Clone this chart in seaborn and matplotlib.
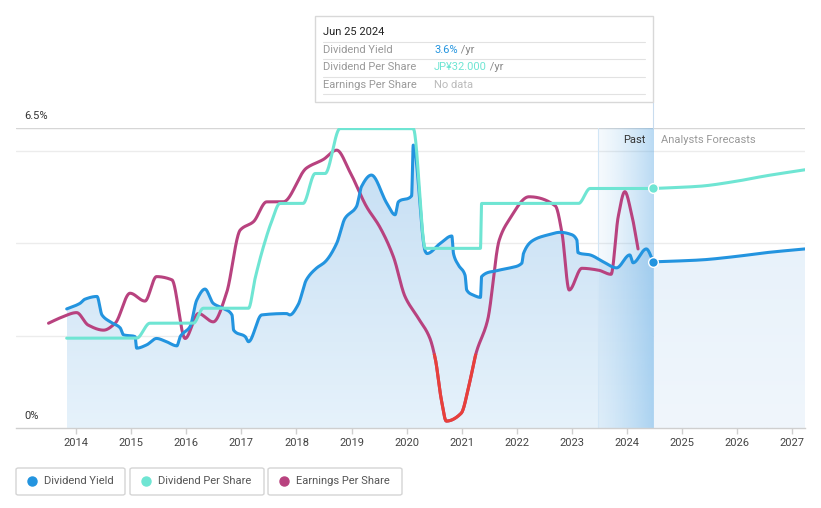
import numpy as np
import pandas as pd
import matplotlib
matplotlib.use("Agg")
import matplotlib.pyplot as plt
import seaborn as sns
from matplotlib.patches import Rectangle, FancyBboxPatch
from matplotlib.lines import Line2D
from matplotlib.colors import to_rgb

sns.set_theme(style="white")
plt.rcParams["font.family"] = ["Roboto", "DejaVu Sans"]

# ---------------- data ----------------
# Dividend yield (%)
yield_x = [2013.83, 2014.07, 2014.16, 2014.38, 2014.47, 2014.62, 2014.80, 2014.86, 2015.07, 2015.10,
           2015.28, 2015.46, 2015.64, 2015.83, 2015.89, 2016.07, 2016.19, 2016.34, 2016.49, 2016.67,
           2016.83, 2016.86, 2017.07, 2017.13, 2017.37, 2017.82, 2017.88, 2018.03, 2018.18, 2018.36,
           2018.52, 2018.73, 2018.88, 2019.09, 2019.18, 2019.36, 2019.64, 2019.79, 2019.85, 2020.09,
           2020.12, 2020.34, 2020.37, 2020.61, 2020.82, 2020.85, 2020.94, 2021.06, 2021.09, 2021.21,
           2021.34, 2021.36, 2021.64, 2021.88, 2022.09, 2022.12, 2022.30, 2022.55, 2022.79, 2022.97,
           2023.09, 2023.11, 2023.33, 2023.57, 2023.81, 2024.05, 2024.11, 2024.35, 2024.48]
yield_y = [2.58, 2.70, 2.79, 2.85, 2.45, 2.30, 2.17, 2.02, 1.98, 1.73,
           1.80, 1.94, 1.87, 1.78, 1.98, 2.20, 2.77, 3.01, 2.70, 2.59,
           2.45, 2.12, 1.98, 1.87, 2.45, 2.48, 2.45, 2.67, 3.21, 3.46,
           3.60, 4.00, 4.54, 4.80, 5.23, 5.48, 4.87, 4.62, 4.90, 5.03,
           6.13, 3.82, 3.78, 4.00, 4.16, 3.78, 3.53, 3.31, 2.99, 2.88,
           2.83, 3.28, 3.41, 3.47, 3.57, 3.78, 4.07, 4.18, 4.24, 4.20,
           4.07, 3.80, 3.75, 3.60, 3.47, 3.75, 3.58, 3.88, 3.60]
yield_fc_x = [2024.48, 2025.32, 2025.93, 2026.53, 2027.23]
yield_fc_y = [3.60, 3.64, 3.71, 3.80, 3.88]

# Dividend per share (JP¥)
dps_x = [2013.83, 2015.10, 2015.34, 2016.13, 2016.31, 2017.13, 2017.25, 2017.40, 2017.55, 2017.70,
         2018.12, 2018.34, 2018.52, 2018.79, 2020.12, 2020.34, 2021.34, 2021.36, 2023.12, 2023.33, 2024.48]
dps_y = [12, 12, 14, 14, 16, 16, 20, 24.2, 27.6, 30,
         30, 34, 34, 40, 40, 24, 24, 30, 30, 32, 32]
dps_fc_x = [2024.48, 2025.32, 2025.93, 2026.53, 2027.23]
dps_fc_y = [32.0, 32.3, 32.9, 33.7, 34.5]

# Earnings per share (relative scale, zero level at eps_zero)
eps_x = [2013.50, 2013.74, 2014.01, 2014.22, 2014.50, 2014.71, 2014.98, 2015.25, 2015.46, 2015.74,
         2015.98, 2016.22, 2016.49, 2016.73, 2016.98, 2017.22, 2017.46, 2017.76, 2018.18, 2018.49,
         2018.73, 2018.97, 2019.27, 2019.51, 2019.76, 2019.97, 2020.20, 2020.42, 2020.52, 2020.63,
         2020.72, 2020.99, 2021.14, 2021.26, 2021.47, 2021.68, 2021.86, 2022.22, 2022.70, 2022.82,
         2022.95, 2023.18, 2023.48, 2023.71, 2023.84, 2023.96, 2024.08, 2024.20]
eps_y = [2.27, 2.40, 2.50, 2.23, 2.12, 2.27, 2.92, 2.75, 3.28, 3.21,
         1.94, 2.48, 2.30, 2.92, 4.29, 4.47, 4.90, 4.90, 5.63, 5.82,
         6.02, 5.55, 4.80, 4.36, 3.71, 2.85, 2.40, 1.95, 1.50, 0.61,
         0.15, 0.32, 0.97, 1.62, 2.34, 4.07, 4.51, 5.01, 4.81, 4.22,
         2.99, 3.46, 3.42, 3.33, 4.58, 5.12, 4.65, 3.88]
eps_zero = 1.62

years = list(range(2014, 2028))
past_start, now = 2023.47, 2024.48
xmin, xmax = 2012.91, 2027.23
ymax = 6.5
dps_top = 40.08

BLUE = "#2394df"
TEAL = "#6fe5d3"
MAG = "#b8427f"
RED = "#e8403a"


def pchip(x, y, xn):
    x = np.asarray(x, float); y = np.asarray(y, float)
    h = np.diff(x); d = np.diff(y) / h
    m = np.zeros_like(y)
    m[0], m[-1] = d[0], d[-1]
    for k in range(1, len(x) - 1):
        if d[k - 1] * d[k] > 0:
            w1 = 2 * h[k] + h[k - 1]; w2 = h[k] + 2 * h[k - 1]
            m[k] = (w1 + w2) / (w1 / d[k - 1] + w2 / d[k])
    idx = np.clip(np.searchsorted(x, xn) - 1, 0, len(x) - 2)
    t = (xn - x[idx]) / h[idx]
    hh = h[idx]
    h00 = 2 * t**3 - 3 * t**2 + 1; h10 = t**3 - 2 * t**2 + t
    h01 = -2 * t**3 + 3 * t**2; h11 = t**3 - t**2
    return h00 * y[idx] + h10 * hh * m[idx] + h01 * y[idx + 1] + h11 * hh * m[idx + 1]


def dense(x, y, n=3000):
    xn = np.linspace(x[0], x[-1], n)
    return xn, pchip(x, y, xn)


W, H = 821, 508
fig = plt.figure(figsize=(W / 100, H / 100), dpi=100)
fig.patch.set_facecolor("white")
ax = fig.add_axes([16 / W, 80 / H, (805 - 16) / W, 300 / H])
ax.set_facecolor("white")

# gridlines
for g in [2, 4, 6]:
    ax.axhline(g, color="#ececec", lw=1, zorder=0.5)
ax.axhline(6.5, color="#d6d6d6", lw=1, zorder=0.5)

# gradient fills under yield
yx, yy = dense(yield_x, yield_y)
fx, fy = dense(yield_fc_x, yield_fc_y, 500)


def grad_fill(xs, ys, top_col, bot_col, z=1):
    poly = ax.fill_between(xs, ys, 0, color="none", lw=0)
    n = 256
    t = np.linspace(0, 1, n)[:, None]
    c1 = np.array(to_rgb(top_col)); c2 = np.array(to_rgb(bot_col))
    img = (c1 * (1 - t) + c2 * t)[:, None, :].repeat(2, axis=1)
    im = ax.imshow(img, extent=[xs[0], xs[-1], 0, ymax], aspect="auto", origin="upper",
                   zorder=z, interpolation="bilinear")
    im.set_clip_path(poly.get_paths()[0], transform=ax.transData)


grad_fill(yx, yy, "#c3ddf3", "#e6f2fb")
grad_fill(fx, fy, "#e3eff9", "#f0f6fc")

# past band (horizontal gradient)
n = 256
t = np.linspace(0, 1, n)[None, :]
band = np.zeros((2, n, 4))
band[..., 0:3] = to_rgb("#5aa8e4")
band[..., 3] = 0.06 + 0.36 * t ** 1.3
ax.imshow(band, extent=[past_start, now, 0, ymax], aspect="auto", zorder=1.5, interpolation="bilinear")
ax.axvline(past_start, color="#d2e6f6", lw=0.8, zorder=1.6)

# yield lines
dfy = pd.DataFrame({"x": yx, "y": yy})
sns.lineplot(data=dfy, x="x", y="y", ax=ax, color=BLUE, lw=2.2, sort=False, estimator=None, zorder=4)
dff = pd.DataFrame({"x": fx, "y": fy})
sns.lineplot(data=dff, x="x", y="y", ax=ax, color=BLUE, lw=2.2, sort=False, estimator=None, zorder=4)
ax.plot([yield_fc_x[0]], [yield_fc_y[0]], "o", color=BLUE, ms=7, mec="white", mew=1, zorder=6)

# EPS
ex, ey = dense(eps_x, eps_y)
dfe = pd.DataFrame({"x": ex, "y": ey})
sns.lineplot(data=dfe, x="x", y="y", ax=ax, color=MAG, lw=2.2, sort=False, estimator=None, zorder=3)
ey_neg = np.where(ey <= eps_zero, ey, np.nan)
ax.plot(ex, ey_neg, color=RED, lw=2.2, zorder=3.1, solid_capstyle="butt")

# DPS on a twin axis (JP¥)
ax2 = ax.twinx()
dx, dy = dense(dps_x, dps_y)
dgx, dgy = dense(dps_fc_x, dps_fc_y, 500)
sns.lineplot(x=dx, y=dy, ax=ax2, color=TEAL, lw=2.2, sort=False, estimator=None)
sns.lineplot(x=dgx, y=dgy, ax=ax2, color=TEAL, lw=2.2, sort=False, estimator=None)
ax2.plot([dps_fc_x[0]], [dps_fc_y[0]], "o", color=TEAL, ms=7, mec="white", mew=1, zorder=6)
ax2.set_ylim(0, dps_top)
ax2.set_yticks([])
ax2.set_ylabel("")
for s in ax2.spines.values():
    s.set_visible(False)

ax.set_xlim(xmin, xmax)
ax.set_ylim(0, ymax)
ax.set_xlabel(""); ax.set_ylabel("")
ax.set_yticks([])
ax.set_xticks(years)
ax.set_xticklabels([str(y) for y in years], fontsize=8, color="#444")
ax.tick_params(axis="x", direction="out", length=4, width=1, color="#d0d0d0", pad=3, bottom=True)
for k in ["left", "right", "top"]:
    ax.spines[k].set_visible(False)
ax2.spines["bottom"].set_visible(False)
ax.spines["bottom"].set_color("#cfcfcf")
ax.spines["bottom"].set_linewidth(1)


def fx_(px):
    return px / W


def fy_(py):
    return 1 - py / H


fig.text(fx_(24), fy_(116), "6.5%", fontsize=8, color="#333", va="center", ha="left")
fig.text(fx_(24), fy_(416), "0%", fontsize=8, color="#333", va="center", ha="left")
fig.text(fx_(645), fy_(140), "Past", fontsize=8, color="#333", va="center", ha="right")
fig.text(fx_(661), fy_(140), "Analysts Forecasts", fontsize=8, color="#999", va="center", ha="left")

# crosshair to tooltip
fig.add_artist(Line2D([fx_(653), fx_(653)], [fy_(102), fy_(128)], color="#c9dcee", lw=0.8))

# tooltip box
fig.add_artist(Rectangle((fx_(315), fy_(102)), (653 - 315) / W, (102 - 16) / H,
                         facecolor="white", edgecolor="#d8d8d8", lw=1, transform=fig.transFigure, zorder=10))
fig.text(fx_(323), fy_(32), "Jun 25 2024", fontsize=8, color="#222", va="center", zorder=11)
for py in [42, 59, 77, 94]:
    fig.add_artist(Line2D([fx_(323), fx_(645)], [fy_(py), fy_(py)], color="#e2e2e2", lw=0.8, zorder=11))
rows = [("Dividend Yield", "3.6%", BLUE, " /yr", 50),
        ("Dividend Per Share", "JP¥32.000", TEAL, " /yr", 67),
        ("Earnings Per Share", "No data", "#bbbbbb", "", 85)]
for lab, val, col, suf, py in rows:
    fig.text(fx_(323), fy_(py), lab, fontsize=8, color="#999", va="center", zorder=11)
    tv = fig.text(fx_(434), fy_(py), val, fontsize=8, color=col, va="center", zorder=11)
    if suf:
        fig.canvas.draw()
        bb = tv.get_window_extent()
        fig.text(bb.x1 / W, fy_(py), suf, fontsize=8, color="#888", va="center", zorder=11)

# legend boxes
legend = [("Dividend Yield", BLUE, 16, 125), ("Dividend Per Share", TEAL, 130, 264),
          ("Earnings Per Share", MAG, 268, 402)]
for lab, col, x0, x1 in legend:
    fig.add_artist(FancyBboxPatch((fx_(x0), fy_(495)), (x1 - x0) / W, 27 / H,
                                  boxstyle="round,pad=0,rounding_size=0.003",
                                  facecolor="white", edgecolor="#d5d5d5", lw=1, transform=fig.transFigure))
    fig.add_artist(Line2D([fx_(x0 + 16)], [fy_(481)], marker="o", ms=6.5, color=col, mec=col,
                          transform=fig.transFigure))
    fig.text(fx_(x0 + 28), fy_(481), lab, fontsize=8, color="#555", va="center", ha="left")

fig.savefig("out.png", dpi=100, facecolor="white")
